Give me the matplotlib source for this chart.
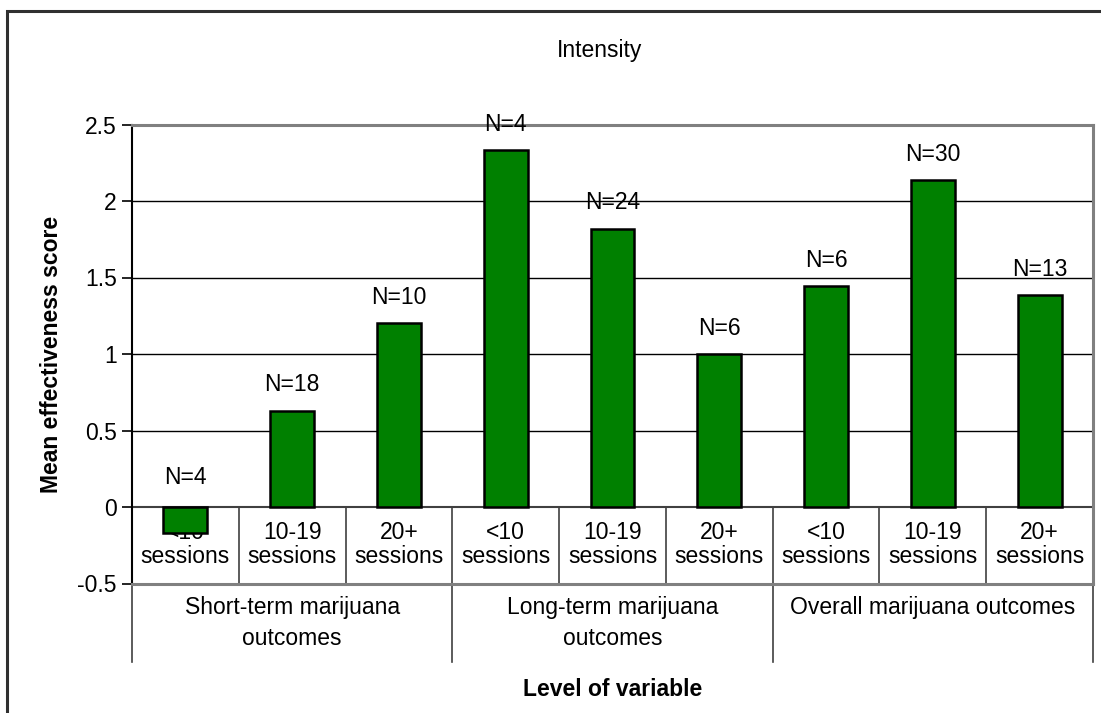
import matplotlib
matplotlib.use("Agg")
import matplotlib.pyplot as plt
from matplotlib.patches import Rectangle
import matplotlib.transforms as mtransforms

plt.rcParams['font.family'] = ['Liberation Sans', 'DejaVu Sans']

levels = ["<10\nsessions", "10-19\nsessions", "20+\nsessions"] * 3
groups = ["Short-term marijuana\noutcomes", "Long-term marijuana\noutcomes", "Overall marijuana outcomes"]
values = [-0.17, 0.63, 1.20, 2.335, 1.82, 1.00, 1.445, 2.135, 1.385]
n_labels = ["N=4", "N=18", "N=10", "N=4", "N=24", "N=6", "N=6", "N=30", "N=13"]
yticks = [-0.5, 0, 0.5, 1, 1.5, 2, 2.5]

W, H = 1101, 713
fig = plt.figure(figsize=(W / 100, H / 100), dpi=100)
FS = 16.5

# axes in pixel geometry
left, right, top, bottom = 132, 1093, 124.5, 583.5
ax = fig.add_axes([left / W, (H - bottom) / H, (right - left) / W, (bottom - top) / H])
ax.set_xlim(0, 9)
ax.set_ylim(-0.5, 2.5)

# gridlines
for y in [0.5, 1, 1.5, 2]:
    ax.axhline(y, color='black', lw=1.0, zorder=1)

x = [i + 0.5 for i in range(len(values))]
ax.bar(x, values, width=0.41, color='#008000', edgecolor='black', linewidth=1.8, zorder=3)

# zero axis line
ax.axhline(0, color='#404040', lw=1.5, zorder=2)

# N labels
for xi, v, lab in zip(x, values, n_labels):
    base = max(v, 0)
    ax.annotate(lab, (xi, base), xytext=(0, 18.5 if v >= 0 else 21), textcoords='offset points',
                ha='center', va='center', fontsize=FS, zorder=4)

# category table: tick row separators
for b in range(1, 9):
    ax.plot([b, b], [0, -0.5], color='#404040', lw=1.2, zorder=2)
for xi, lab in zip(x, levels):
    ax.text(xi, -0.245, lab, ha='center', va='center', fontsize=FS, linespacing=1.1, zorder=2.5)

# group row (below axes)
trans = mtransforms.blended_transform_factory(ax.transData, ax.transAxes)
ext = -(662 - bottom) / (bottom - top)
for b in [0, 3, 6, 9]:
    ax.plot([b, b], [0, ext], transform=trans, color='#404040', lw=1.2, clip_on=False, zorder=2)
gtop = -(596 - bottom) / (bottom - top)
for gi, g in enumerate(groups):
    ax.text(gi * 3 + 1.5, gtop, g, transform=trans, ha='center', va='top', fontsize=FS,
            linespacing=1.45, clip_on=False)

# spines
for s in ['top', 'right', 'bottom']:
    ax.spines[s].set_color('#808080')
    ax.spines[s].set_linewidth(2.2)
ax.spines['left'].set_color('black')
ax.spines['left'].set_linewidth(1.5)
ax.set_xticks([])
ax.set_yticks(yticks)
ax.set_yticklabels(["-0.5", "0", "0.5", "1", "1.5", "2", "2.5"])
ax.tick_params(axis='y', direction='out', length=7, width=1.2, labelsize=FS, pad=4)

# axis titles
ax.set_ylabel("Mean effectiveness score", fontsize=FS, fontweight='bold', labelpad=10)
fig.text(613 / W, 1 - 690 / H, "Level of variable", ha='center', va='center', fontsize=FS, fontweight='bold')
fig.text(600 / W, 1 - 50 / H, "Intensity", ha='center', va='center', fontsize=FS)

# chart border (left and top visible)
fig.add_artist(Rectangle((7 / W, -0.05), 1.2, 1 - 11 / H + 0.05, transform=fig.transFigure,
                         fill=False, edgecolor='#303030', lw=2.2))

fig.savefig("out.png", dpi=100)
